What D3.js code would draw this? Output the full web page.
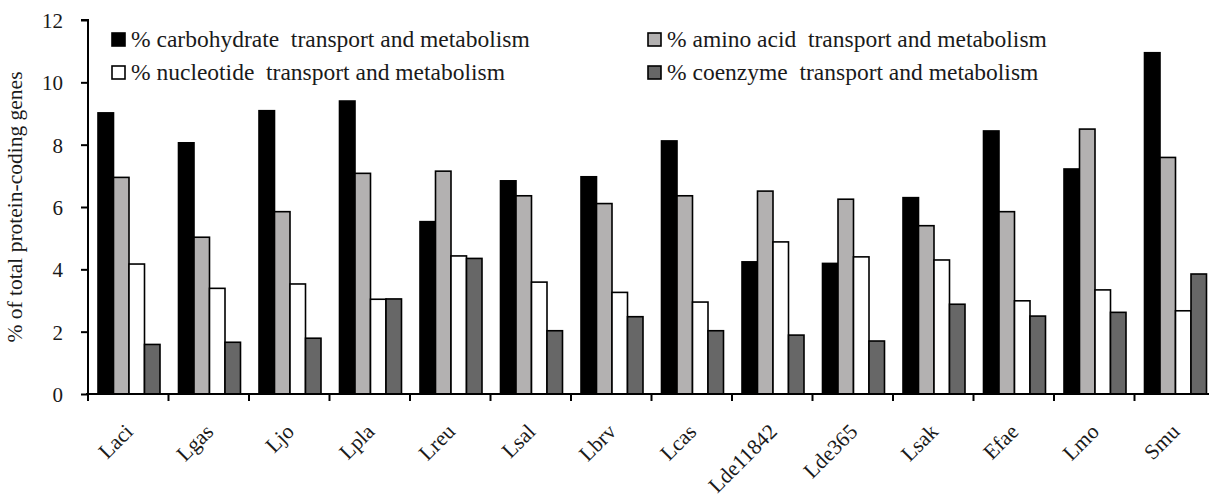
<!DOCTYPE html>
<html>
<head>
<meta charset="utf-8">
<script src="https://cdn.jsdelivr.net/npm/d3@7"></script>
<style>
  html, body { margin: 0; padding: 0; background: #fff; }
  svg { display: block; }
</style>
</head>
<body>
<svg id="chart" width="1209" height="498"></svg>
<script>
const categories = ["Laci","Lgas","Ljo","Lpla","Lreu","Lsal","Lbrv","Lcas","Lde11842","Lde365","Lsak","Efae","Lmo","Smu"];
const seriesNames = [
  "% carbohydrate  transport and metabolism",
  "% amino acid  transport and metabolism",
  "% nucleotide  transport and metabolism",
  "% coenzyme  transport and metabolism"
];
const carbohydrate = [9.02, 8.06, 9.09, 9.40, 5.53, 6.84, 6.97, 8.12, 4.24, 4.19, 6.30, 8.44, 7.22, 10.95];
const aminoAcid    = [6.95, 5.03, 5.85, 7.08, 7.15, 6.36, 6.11, 6.36, 6.51, 6.25, 5.40, 5.85, 8.50, 7.59];
const nucleotide   = [4.17, 3.39, 3.53, 3.04, 4.43, 3.59, 3.26, 2.95, 4.88, 4.40, 4.30, 2.99, 3.34, 2.67];
const coenzyme     = [1.59, 1.66, 1.79, 3.05, 4.35, 2.03, 2.48, 2.03, 1.89, 1.70, 2.88, 2.50, 2.62, 3.85];
const yTicks = [0, 2, 4, 6, 8, 10, 12];
const yTitle = "% of total protein-coding genes";

const series = [carbohydrate, aminoAcid, nucleotide, coenzyme];
const colors = ["#000000", "#b3b1b1", "#ffffff", "#676767"];
const FONT = "'Liberation Serif', 'Times New Roman', serif";
const INK = "#1a1a1a";

const svg = d3.select("#chart");
const x0 = 88, y0 = 394;

const x = d3.scaleBand().domain(categories).range([x0, 1215]).padding(0);
const x1 = d3.scaleBand().domain(d3.range(4)).range([10, 72]).padding(0);
const y = d3.scaleLinear().domain([0, 12]).range([y0, 20]);

// bars
const g = svg.append("g");
categories.forEach((c, i) => {
  series.forEach((s, k) => {
    g.append("rect")
      .attr("x", x(c) + x1(k))
      .attr("y", y(s[i]))
      .attr("width", x1.bandwidth())
      .attr("height", y(0) - y(s[i]))
      .attr("fill", colors[k])
      .attr("stroke", "#000")
      .attr("stroke-width", 1.6);
  });
});

// y axis
const yAxis = d3.axisLeft(y).tickValues(yTicks).tickSize(7).tickFormat(d3.format("d"));
const ya = svg.append("g").attr("transform", `translate(${x0},0)`).call(yAxis);
ya.attr("font-family", null);
ya.select(".domain").attr("stroke", "#000").attr("stroke-width", 2).attr("d", `M-7,${y(12)}H0V${y0}`);
ya.selectAll(".tick line").attr("stroke", "#000").attr("stroke-width", 2);
ya.selectAll(".tick text").attr("font-size", 21).attr("x", -25).attr("dy", "0.35em")
  .attr("font-family", FONT).attr("fill", INK);

// x axis line
svg.append("line").attr("x1", x0 - 2).attr("x2", 1209).attr("y1", y0).attr("y2", y0)
  .attr("stroke", "#000").attr("stroke-width", 2);
// boundary ticks
svg.selectAll(".xt").data(categories).enter().append("line")
  .attr("x1", d => x(d)).attr("x2", d => x(d))
  .attr("y1", y0).attr("y2", y0 + 7)
  .attr("stroke", "#000").attr("stroke-width", 2);
// x labels
svg.selectAll(".xl").data(categories).enter().append("text")
  .attr("transform", d => `translate(${x(d) + x.bandwidth() / 2 + 6},${y0 + 39}) rotate(-45)`)
  .attr("text-anchor", "end")
  .attr("font-family", FONT).attr("fill", INK)
  .attr("font-size", 21.5)
  .text(d => d);

// y title
svg.append("text")
  .attr("transform", `translate(22,${(y(12) + y0) / 2}) rotate(-90)`)
  .attr("text-anchor", "middle")
  .attr("font-family", FONT).attr("fill", INK)
  .attr("font-size", 21.5)
  .text(yTitle);

// legend
const legendPos = [[112, 47], [648, 47], [112, 80], [648, 80]];
seriesNames.forEach((name, k) => {
  const [lx, ly] = legendPos[k];
  svg.append("rect").attr("x", lx).attr("y", ly - 14).attr("width", 13).attr("height", 13)
    .attr("fill", colors[k]).attr("stroke", "#000").attr("stroke-width", 1.6);
  svg.append("text").attr("x", lx + 19).attr("y", ly).attr("font-size", 23.5)
    .attr("font-family", FONT).attr("fill", INK)
    .style("white-space", "pre")
    .text(name);
});
</script>
</body>
</html>
